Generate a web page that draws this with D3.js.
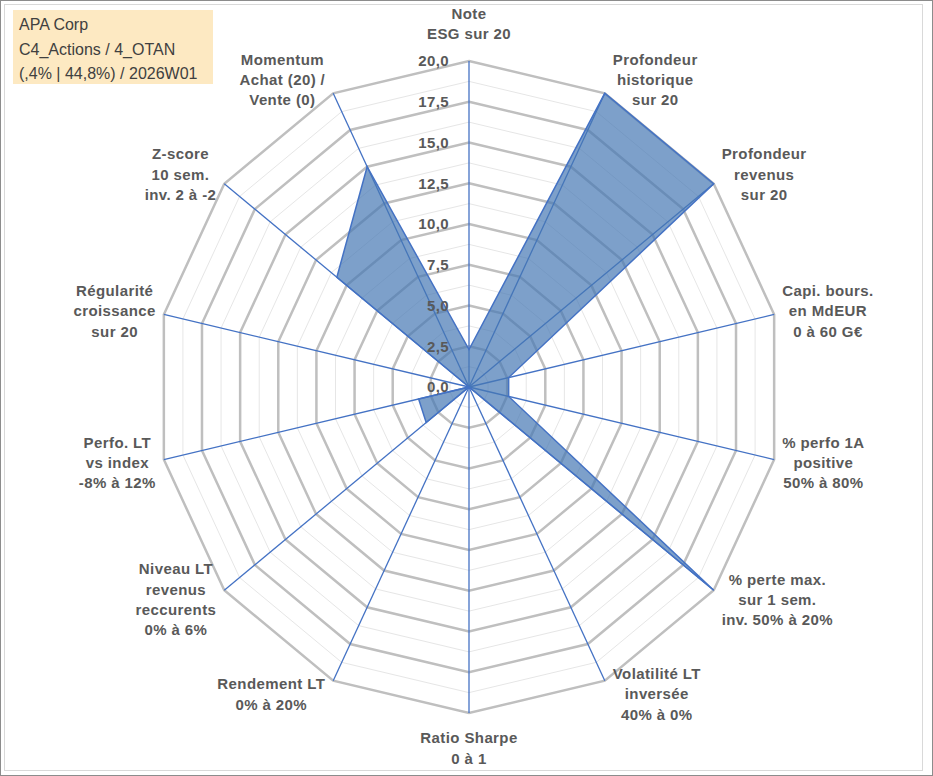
<!DOCTYPE html>
<html lang="fr">
<head>
<meta charset="UTF-8">
<title>Radar APA Corp</title>
<script src="https://d3js.org/d3.v7.min.js"></script>
<style>
    body { margin: 0; background: #fff; }
    svg { display: block; }
    .axis-label, .tick-label {
        font-family: "Liberation Sans", Arial, sans-serif;
        font-weight: bold;
        font-size: 15px;
        letter-spacing: 0.4px;
        fill: #595959;
    }
    .title-txt {
        font-family: "Liberation Sans", Arial, sans-serif;
        font-size: 16px;
        fill: #404040;
    }
</style>
</head>
<body>
<svg id="chart" width="933" height="776"></svg>
<script>
// axes, clockwise from the top
const axisNames = [
    ["Note", "ESG sur 20"],
    ["Profondeur", "historique", "sur 20"],
    ["Profondeur", "revenus", "sur 20"],
    ["Capi. bours.", "en MdEUR", "0 à 60 G€"],
    ["% perfo 1A", "positive", "50% à 80%"],
    ["% perte max.", "sur 1 sem.", "inv. 50% à 20%"],
    ["Volatilité LT", "inversée", "40% à 0%"],
    ["Ratio Sharpe", "0 à 1"],
    ["Rendement LT", "0% à 20%"],
    ["Niveau LT", "revenus", "reccurents", "0% à 6%"],
    ["Perfo. LT", "vs index", "-8% à 12%"],
    ["Régularité", "croissance", "sur 20"],
    ["Z-score", "10 sem.", "inv. 2 à -2"],
    ["Momentum", "Achat (20) /", "Vente (0)"]
];
// scores sur 20
const scores = [2.3, 20, 20, 2.6, 2.6, 20, 0, 0, 0, 3.5, 3.3, 0, 10.8, 15];
const majorTicks = [0, 2.5, 5, 7.5, 10, 12.5, 15, 17.5, 20];
const minorTicks = [1.25, 3.75, 6.25, 8.75, 11.25, 13.75, 16.25, 18.75];
const titleLines = ["APA Corp", "C4_Actions / 4_OTAN", "(,4% | 44,8%) / 2026W01"];

const svg = d3.select("#chart");
const W = 933, H = 776;
const cx = 469, cy = 387;

// the exported picture is a little squeezed horizontally
const rX = d3.scaleLinear().domain([0, 20]).range([0, 313]);
const rY = d3.scaleLinear().domain([0, 20]).range([0, 326]);
const angle = d3.scaleLinear().domain([0, axisNames.length]).range([0, 2 * Math.PI]);

const fr = d3.formatLocale({decimal: ",", thousands: " ", grouping: [3], currency: ["", " €"]});
const fmt = fr.format(".1f");

function pt(i, v) {
    const a = angle(i);
    return [cx + rX(v) * Math.sin(a), cy - rY(v) * Math.cos(a)];
}

// frames
svg.append("rect")
    .attr("x", 0.5).attr("y", 0.5)
    .attr("width", W - 1).attr("height", H - 1)
    .style("fill", "#fff").style("stroke", "#8c8c8c").style("stroke-width", 1);
svg.append("rect")
    .attr("x", 4.5).attr("y", 4.5)
    .attr("width", 918).attr("height", 766)
    .style("fill", "none").style("stroke", "#d9d9d9").style("stroke-width", 1);

const g = svg.append("g");
const idx = d3.range(axisNames.length);

// grid rings
g.selectAll("polygon.minor")
    .data(minorTicks)
    .join("polygon")
    .attr("class", "minor")
    .attr("points", t => idx.map(i => pt(i, t).join(",")).join(" "))
    .style("fill", "none").style("stroke", "#e6e6e6").style("stroke-width", 1);

g.selectAll("polygon.major")
    .data(majorTicks.filter(t => t > 0))
    .join("polygon")
    .attr("class", "major")
    .attr("points", t => idx.map(i => pt(i, t).join(",")).join(" "))
    .style("fill", "none").style("stroke", "#bfbfbf").style("stroke-width", 2.5);

// spokes
g.selectAll("line.spoke")
    .data(idx)
    .join("line")
    .attr("class", "spoke")
    .attr("x1", cx).attr("y1", cy)
    .attr("x2", i => pt(i, 20)[0])
    .attr("y2", i => pt(i, 20)[1])
    .style("stroke", "#4472c4").style("stroke-width", 1.3);

// data
g.append("polygon")
    .datum(scores)
    .attr("points", d => d.map((v, i) => pt(i, v).join(",")).join(" "))
    .style("fill", "rgb(70,120,180)")
    .style("fill-opacity", 0.7)
    .style("stroke", "#4472c4")
    .style("stroke-width", 1.5)
    .style("stroke-linejoin", "miter");

// scale labels on the top axis
g.selectAll("text.tick-label")
    .data(majorTicks)
    .join("text")
    .attr("class", "tick-label")
    .attr("x", cx - 20)
    .attr("y", t => cy - rY(t))
    .attr("dy", "0.35em")
    .attr("text-anchor", "end")
    .text(t => fmt(t));

// category labels
const lineH = 20.3;
const gap = 8;
const labels = g.selectAll("g.lbl")
    .data(idx)
    .join("g")
    .attr("class", "lbl");

labels.each(function (i) {
    const lines = axisNames[i];
    const grp = d3.select(this);
    const txt = grp.append("text")
        .attr("class", "axis-label")
        .attr("text-anchor", "middle");
    txt.selectAll("tspan")
        .data(lines)
        .join("tspan")
        .attr("x", 0)
        .attr("y", (d, k) => k * lineH)
        .attr("dy", "0.35em")
        .text(d => d);
    let w = 0;
    txt.selectAll("tspan").each(function () {
        w = Math.max(w, this.getComputedTextLength());
    });
    const h = lines.length * lineH;
    const a = angle(i);
    const s = Math.sin(a), c = Math.cos(a);
    const [vx, vy] = pt(i, 20);
    let bx, by;
    if (Math.abs(s) < 0.01) {
        bx = vx;
        by = c > 0 ? vy - gap - 9 - h / 2 : vy + gap + 7 + h / 2;
    } else {
        bx = vx + Math.sign(s) * (gap + w / 2);
        by = vy - c * 15;
    }
    grp.attr("transform", "translate(" + bx + "," + (by - (h - lineH) / 2) + ")");
});

// title box
const tb = svg.append("g").attr("transform", "translate(13,10)");
tb.append("rect")
    .attr("width", 200).attr("height", 74)
    .style("fill", "#fde9c2");
tb.selectAll("text")
    .data(titleLines)
    .join("text")
    .attr("class", "title-txt")
    .attr("x", 6)
    .attr("y", (d, k) => 20 + k * 24.5)
    .text(d => d);
</script>
</body>
</html>
